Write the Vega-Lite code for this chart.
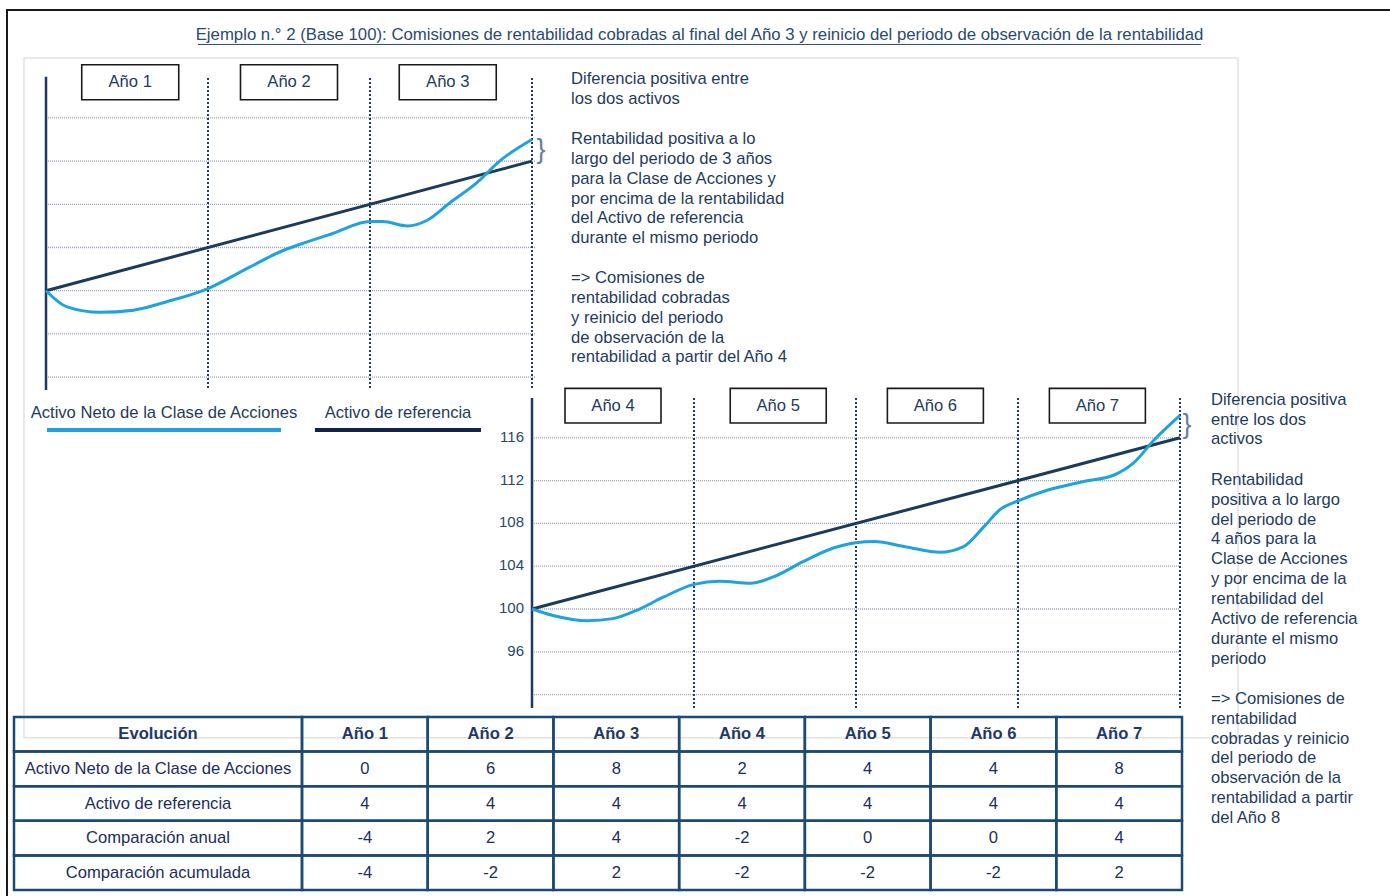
{
  "$schema": "https://vega.github.io/schema/vega-lite/v6.json",
  "width": 1390,
  "height": 896,
  "autosize": {"type": "none"},
  "padding": 0,
  "background": "white",
  "config": {
    "view": {"stroke": null},
    "axis": {"disable": true},
    "legend": {"disable": true},
    "font": "Liberation Sans"
  },
  "data": {"values": [{}]},
  "datasets": {
    "serie_sup": [
      {"serie": "Activo de referencia", "year": 0, "value": 100},
      {"serie": "Activo de referencia", "year": 3, "value": 112},
      {"serie": "Activo Neto de la Clase de Acciones", "year": 0, "value": 100},
      {"serie": "Activo Neto de la Clase de Acciones", "year": 0.13, "value": 98.5},
      {"serie": "Activo Neto de la Clase de Acciones", "year": 0.33, "value": 98.0},
      {"serie": "Activo Neto de la Clase de Acciones", "year": 0.54, "value": 98.2},
      {"serie": "Activo Neto de la Clase de Acciones", "year": 0.75, "value": 99.0},
      {"serie": "Activo Neto de la Clase de Acciones", "year": 1.0, "value": 100.2},
      {"serie": "Activo Neto de la Clase de Acciones", "year": 1.26, "value": 102.2},
      {"serie": "Activo Neto de la Clase de Acciones", "year": 1.46, "value": 103.7},
      {"serie": "Activo Neto de la Clase de Acciones", "year": 1.57, "value": 104.3},
      {"serie": "Activo Neto de la Clase de Acciones", "year": 1.77, "value": 105.3},
      {"serie": "Activo Neto de la Clase de Acciones", "year": 2.0, "value": 106.4},
      {"serie": "Activo Neto de la Clase de Acciones", "year": 2.08, "value": 106.4},
      {"serie": "Activo Neto de la Clase de Acciones", "year": 2.23, "value": 106.0},
      {"serie": "Activo Neto de la Clase de Acciones", "year": 2.35, "value": 106.5},
      {"serie": "Activo Neto de la Clase de Acciones", "year": 2.49, "value": 108.1},
      {"serie": "Activo Neto de la Clase de Acciones", "year": 2.66, "value": 110.0},
      {"serie": "Activo Neto de la Clase de Acciones", "year": 2.8, "value": 112.0},
      {"serie": "Activo Neto de la Clase de Acciones", "year": 3.0, "value": 114.0}
    ],
    "serie_inf": [
      {"serie": "Activo de referencia", "year": 3, "value": 100},
      {"serie": "Activo de referencia", "year": 7, "value": 116},
      {"serie": "Activo Neto de la Clase de Acciones", "year": 3.0, "value": 100},
      {"serie": "Activo Neto de la Clase de Acciones", "year": 3.13, "value": 99.4},
      {"serie": "Activo Neto de la Clase de Acciones", "year": 3.34, "value": 98.9},
      {"serie": "Activo Neto de la Clase de Acciones", "year": 3.5, "value": 99.1},
      {"serie": "Activo Neto de la Clase de Acciones", "year": 3.65, "value": 99.9},
      {"serie": "Activo Neto de la Clase de Acciones", "year": 3.81, "value": 101.1},
      {"serie": "Activo Neto de la Clase de Acciones", "year": 4.0, "value": 102.3},
      {"serie": "Activo Neto de la Clase de Acciones", "year": 4.16, "value": 102.6},
      {"serie": "Activo Neto de la Clase de Acciones", "year": 4.35, "value": 102.4},
      {"serie": "Activo Neto de la Clase de Acciones", "year": 4.49, "value": 103.0},
      {"serie": "Activo Neto de la Clase de Acciones", "year": 4.67, "value": 104.4},
      {"serie": "Activo Neto de la Clase de Acciones", "year": 4.86, "value": 105.7},
      {"serie": "Activo Neto de la Clase de Acciones", "year": 5.0, "value": 106.2},
      {"serie": "Activo Neto de la Clase de Acciones", "year": 5.11, "value": 106.3},
      {"serie": "Activo Neto de la Clase de Acciones", "year": 5.31, "value": 105.8},
      {"serie": "Activo Neto de la Clase de Acciones", "year": 5.52, "value": 105.3},
      {"serie": "Activo Neto de la Clase de Acciones", "year": 5.66, "value": 105.8},
      {"serie": "Activo Neto de la Clase de Acciones", "year": 5.79, "value": 107.7},
      {"serie": "Activo Neto de la Clase de Acciones", "year": 5.89, "value": 109.3},
      {"serie": "Activo Neto de la Clase de Acciones", "year": 6.0, "value": 110.1},
      {"serie": "Activo Neto de la Clase de Acciones", "year": 6.18, "value": 111.1},
      {"serie": "Activo Neto de la Clase de Acciones", "year": 6.4, "value": 111.9},
      {"serie": "Activo Neto de la Clase de Acciones", "year": 6.59, "value": 112.5},
      {"serie": "Activo Neto de la Clase de Acciones", "year": 6.71, "value": 113.6},
      {"serie": "Activo Neto de la Clase de Acciones", "year": 6.84, "value": 115.8},
      {"serie": "Activo Neto de la Clase de Acciones", "year": 7.0, "value": 118.1}
    ],
    "tabla": [
      {"fila": "Evolución", "col": "Evolución", "texto": "Evolución"},
      {"fila": "Evolución", "col": "Año 1", "texto": "Año 1"},
      {"fila": "Evolución", "col": "Año 2", "texto": "Año 2"},
      {"fila": "Evolución", "col": "Año 3", "texto": "Año 3"},
      {"fila": "Evolución", "col": "Año 4", "texto": "Año 4"},
      {"fila": "Evolución", "col": "Año 5", "texto": "Año 5"},
      {"fila": "Evolución", "col": "Año 6", "texto": "Año 6"},
      {"fila": "Evolución", "col": "Año 7", "texto": "Año 7"},
      {"fila": "Activo Neto de la Clase de Acciones", "col": "Evolución", "texto": "Activo Neto de la Clase de Acciones"},
      {"fila": "Activo Neto de la Clase de Acciones", "col": "Año 1", "texto": "0"},
      {"fila": "Activo Neto de la Clase de Acciones", "col": "Año 2", "texto": "6"},
      {"fila": "Activo Neto de la Clase de Acciones", "col": "Año 3", "texto": "8"},
      {"fila": "Activo Neto de la Clase de Acciones", "col": "Año 4", "texto": "2"},
      {"fila": "Activo Neto de la Clase de Acciones", "col": "Año 5", "texto": "4"},
      {"fila": "Activo Neto de la Clase de Acciones", "col": "Año 6", "texto": "4"},
      {"fila": "Activo Neto de la Clase de Acciones", "col": "Año 7", "texto": "8"},
      {"fila": "Activo de referencia", "col": "Evolución", "texto": "Activo de referencia"},
      {"fila": "Activo de referencia", "col": "Año 1", "texto": "4"},
      {"fila": "Activo de referencia", "col": "Año 2", "texto": "4"},
      {"fila": "Activo de referencia", "col": "Año 3", "texto": "4"},
      {"fila": "Activo de referencia", "col": "Año 4", "texto": "4"},
      {"fila": "Activo de referencia", "col": "Año 5", "texto": "4"},
      {"fila": "Activo de referencia", "col": "Año 6", "texto": "4"},
      {"fila": "Activo de referencia", "col": "Año 7", "texto": "4"},
      {"fila": "Comparación anual", "col": "Evolución", "texto": "Comparación anual"},
      {"fila": "Comparación anual", "col": "Año 1", "texto": "-4"},
      {"fila": "Comparación anual", "col": "Año 2", "texto": "2"},
      {"fila": "Comparación anual", "col": "Año 3", "texto": "4"},
      {"fila": "Comparación anual", "col": "Año 4", "texto": "-2"},
      {"fila": "Comparación anual", "col": "Año 5", "texto": "0"},
      {"fila": "Comparación anual", "col": "Año 6", "texto": "0"},
      {"fila": "Comparación anual", "col": "Año 7", "texto": "4"},
      {"fila": "Comparación acumulada", "col": "Evolución", "texto": "Comparación acumulada"},
      {"fila": "Comparación acumulada", "col": "Año 1", "texto": "-4"},
      {"fila": "Comparación acumulada", "col": "Año 2", "texto": "-2"},
      {"fila": "Comparación acumulada", "col": "Año 3", "texto": "2"},
      {"fila": "Comparación acumulada", "col": "Año 4", "texto": "-2"},
      {"fila": "Comparación acumulada", "col": "Año 5", "texto": "-2"},
      {"fila": "Comparación acumulada", "col": "Año 6", "texto": "-2"},
      {"fila": "Comparación acumulada", "col": "Año 7", "texto": "2"}
    ]
  },
  "layer": [
    {
      "layer": [
        {
          "mark": {"type": "rect", "fillOpacity": 0, "stroke": "#1a1a1a", "strokeWidth": 2},
          "encoding": {
            "x": {"datum": -0.2407, "type": "quantitative", "scale": {"domain": [0, 7], "range": [46, 1180], "nice": false, "zero": false}},
            "x2": {"datum": 8.6},
            "y": {"datum": 126, "type": "quantitative", "scale": {"domain": [90, 120], "range": [398.7, 74.7], "nice": false, "zero": false}},
            "y2": {"datum": 40}
          }
        },
        {
          "mark": {"type": "rect", "fillOpacity": 0, "stroke": "#e2e2e2", "strokeWidth": 1.5},
          "encoding": {
            "x": {"datum": -0.136, "type": "quantitative", "scale": {"domain": [0, 7], "range": [46, 1180], "nice": false, "zero": false}},
            "x2": {"datum": 7.358},
            "y": {"datum": 121.55, "type": "quantitative", "scale": {"domain": [90, 120], "range": [398.7, 74.7], "nice": false, "zero": false}},
            "y2": {"datum": 58.6}
          }
        },
        {
          "mark": {"type": "text", "fontSize": 16.75, "color": "#2b4a6e", "align": "center", "baseline": "middle"},
          "encoding": {
            "x": {"datum": 4.034, "type": "quantitative", "scale": {"domain": [0, 7], "range": [46, 1180], "nice": false, "zero": false}},
            "y": {"datum": 123.63, "type": "quantitative", "scale": {"domain": [90, 120], "range": [398.7, 74.7], "nice": false, "zero": false}},
            "text": {"value": "Ejemplo n.° 2 (Base 100): Comisiones de rentabilidad cobradas al final del Año 3 y reinicio del periodo de observación de la rentabilidad"}
          }
        },
        {
          "mark": {"type": "rule", "color": "#2b4a6e", "strokeWidth": 1},
          "encoding": {
            "x": {"datum": 0.938, "type": "quantitative", "scale": {"domain": [0, 7], "range": [46, 1180], "nice": false, "zero": false}},
            "x2": {"datum": 7.13},
            "y": {"datum": 122.8, "type": "quantitative", "scale": {"domain": [90, 120], "range": [398.7, 74.7], "nice": false, "zero": false}}
          }
        },
        {
          "data": {"values": [{"v": 92}, {"v": 96}, {"v": 100}, {"v": 104}, {"v": 108}, {"v": 112}, {"v": 116}]},
          "mark": {"type": "rule", "color": "#9aa7ba", "strokeWidth": 1.3, "strokeDash": [1, 1]},
          "encoding": {
            "x": {"datum": 0, "type": "quantitative", "scale": {"domain": [0, 7], "range": [46, 1180], "nice": false, "zero": false}},
            "x2": {"datum": 3.02},
            "y": {"field": "v", "type": "quantitative", "scale": {"domain": [90, 120], "range": [398.7, 74.7], "nice": false, "zero": false}}
          }
        },
        {
          "data": {"values": [{"year": 1}, {"year": 2}, {"year": 3}]},
          "mark": {"type": "rule", "color": "#1f3864", "strokeWidth": 2, "strokeDash": [2, 2]},
          "encoding": {
            "x": {"field": "year", "type": "quantitative", "scale": {"domain": [0, 7], "range": [46, 1180], "nice": false, "zero": false}},
            "y": {"datum": 119.7, "type": "quantitative", "scale": {"domain": [90, 120], "range": [398.7, 74.7], "nice": false, "zero": false}},
            "y2": {"datum": 90.8}
          }
        },
        {
          "mark": {"type": "rule", "color": "#1f3864", "strokeWidth": 2.5},
          "encoding": {
            "x": {"datum": 0, "type": "quantitative", "scale": {"domain": [0, 7], "range": [46, 1180], "nice": false, "zero": false}},
            "y": {"datum": 119.8, "type": "quantitative", "scale": {"domain": [90, 120], "range": [398.7, 74.7], "nice": false, "zero": false}},
            "y2": {"datum": 90.8}
          }
        },
        {
          "data": {"name": "serie_sup"},
          "mark": {"type": "line", "strokeWidth": 3, "interpolate": "monotone"},
          "encoding": {
            "x": {"field": "year", "type": "quantitative", "scale": {"domain": [0, 7], "range": [46, 1180], "nice": false, "zero": false}},
            "y": {"field": "value", "type": "quantitative", "scale": {"domain": [90, 120], "range": [398.7, 74.7], "nice": false, "zero": false}},
            "color": {"field": "serie", "type": "nominal", "legend": null, "scale": {"domain": ["Activo Neto de la Clase de Acciones", "Activo de referencia"], "range": ["#1fa2df", "#1b3a5c"]}}
          }
        },
        {
          "data": {"values": [{"año": "Año 1", "centro": 0.52}, {"año": "Año 2", "centro": 1.5}, {"año": "Año 3", "centro": 2.48}]},
          "mark": {"type": "point", "shape": "M-1,-0.36L1,-0.36L1,0.36L-1,0.36Z", "size": 9409, "filled": true, "fill": "white", "stroke": "#1a1a1a", "strokeWidth": 1.6, "opacity": 1},
          "encoding": {
            "x": {"field": "centro", "type": "quantitative", "scale": {"domain": [0, 7], "range": [46, 1180], "nice": false, "zero": false}},
            "y": {"datum": 119.3, "type": "quantitative", "scale": {"domain": [90, 120], "range": [398.7, 74.7], "nice": false, "zero": false}}
          }
        },
        {
          "data": {"values": [{"año": "Año 1", "centro": 0.52}, {"año": "Año 2", "centro": 1.5}, {"año": "Año 3", "centro": 2.48}]},
          "mark": {"type": "text", "fontSize": 16.6, "color": "#1f3b5c", "align": "center", "baseline": "middle"},
          "encoding": {
            "x": {"field": "centro", "type": "quantitative", "scale": {"domain": [0, 7], "range": [46, 1180], "nice": false, "zero": false}},
            "y": {"datum": 119.3, "type": "quantitative", "scale": {"domain": [90, 120], "range": [398.7, 74.7], "nice": false, "zero": false}},
            "text": {"field": "año"}
          }
        },
        {
          "mark": {"type": "text", "fontSize": 16.6, "color": "#1f3b5c", "align": "left", "baseline": "top", "lineBreak": "\n", "lineHeight": 19.93},
          "encoding": {
            "x": {"datum": 3.241, "type": "quantitative", "scale": {"domain": [0, 7], "range": [46, 1180], "nice": false, "zero": false}},
            "y": {"datum": 120.37, "type": "quantitative", "scale": {"domain": [90, 120], "range": [398.7, 74.7], "nice": false, "zero": false}},
            "text": {"value": "Diferencia positiva entre\nlos dos activos"}
          }
        },
        {
          "mark": {"type": "text", "fontSize": 16.6, "color": "#1f3b5c", "align": "left", "baseline": "top", "lineBreak": "\n", "lineHeight": 19.93},
          "encoding": {
            "x": {"datum": 3.241, "type": "quantitative", "scale": {"domain": [0, 7], "range": [46, 1180], "nice": false, "zero": false}},
            "y": {"datum": 114.81, "type": "quantitative", "scale": {"domain": [90, 120], "range": [398.7, 74.7], "nice": false, "zero": false}},
            "text": {"value": "Rentabilidad positiva a lo\nlargo del periodo de 3 años\npara la Clase de Acciones y\npor encima de la rentabilidad\ndel Activo de referencia\ndurante el mismo periodo"}
          }
        },
        {
          "mark": {"type": "text", "fontSize": 16.6, "color": "#1f3b5c", "align": "left", "baseline": "top", "lineBreak": "\n", "lineHeight": 19.93},
          "encoding": {
            "x": {"datum": 3.241, "type": "quantitative", "scale": {"domain": [0, 7], "range": [46, 1180], "nice": false, "zero": false}},
            "y": {"datum": 101.94, "type": "quantitative", "scale": {"domain": [90, 120], "range": [398.7, 74.7], "nice": false, "zero": false}},
            "text": {"value": "=> Comisiones de\nrentabilidad cobradas\ny reinicio del periodo\nde observación de la\nrentabilidad a partir del Año 4"}
          }
        },
        {
          "mark": {"type": "text", "fontSize": 27, "color": "#6a7f9a", "align": "left", "baseline": "middle"},
          "encoding": {
            "x": {"datum": 3.028, "type": "quantitative", "scale": {"domain": [0, 7], "range": [46, 1180], "nice": false, "zero": false}},
            "y": {"datum": 113.0, "type": "quantitative", "scale": {"domain": [90, 120], "range": [398.7, 74.7], "nice": false, "zero": false}},
            "text": {"value": "}"}
          }
        },
        {
          "mark": {"type": "text", "fontSize": 16.6, "color": "#1f3b5c", "align": "center", "baseline": "middle"},
          "encoding": {
            "x": {"datum": 0.728, "type": "quantitative", "scale": {"domain": [0, 7], "range": [46, 1180], "nice": false, "zero": false}},
            "y": {"datum": 88.68, "type": "quantitative", "scale": {"domain": [90, 120], "range": [398.7, 74.7], "nice": false, "zero": false}},
            "text": {"value": "Activo Neto de la Clase de Acciones"}
          }
        },
        {
          "mark": {"type": "text", "fontSize": 16.6, "color": "#1f3b5c", "align": "center", "baseline": "middle"},
          "encoding": {
            "x": {"datum": 2.173, "type": "quantitative", "scale": {"domain": [0, 7], "range": [46, 1180], "nice": false, "zero": false}},
            "y": {"datum": 88.68, "type": "quantitative", "scale": {"domain": [90, 120], "range": [398.7, 74.7], "nice": false, "zero": false}},
            "text": {"value": "Activo de referencia"}
          }
        },
        {
          "mark": {"type": "rule", "color": "#1fa2df", "strokeWidth": 4},
          "encoding": {
            "x": {"datum": 0.006, "type": "quantitative", "scale": {"domain": [0, 7], "range": [46, 1180], "nice": false, "zero": false}},
            "x2": {"datum": 1.451},
            "y": {"datum": 87.1, "type": "quantitative", "scale": {"domain": [90, 120], "range": [398.7, 74.7], "nice": false, "zero": false}}
          }
        },
        {
          "mark": {"type": "rule", "color": "#12224f", "strokeWidth": 4},
          "encoding": {
            "x": {"datum": 1.66, "type": "quantitative", "scale": {"domain": [0, 7], "range": [46, 1180], "nice": false, "zero": false}},
            "x2": {"datum": 2.685},
            "y": {"datum": 87.1, "type": "quantitative", "scale": {"domain": [90, 120], "range": [398.7, 74.7], "nice": false, "zero": false}}
          }
        }
      ]
    },
    {
      "layer": [
        {
          "data": {"values": [{"v": 92}, {"v": 96}, {"v": 100}, {"v": 104}, {"v": 108}, {"v": 112}, {"v": 116}]},
          "mark": {"type": "rule", "color": "#9aa7ba", "strokeWidth": 1.3, "strokeDash": [1, 1]},
          "encoding": {
            "x": {"datum": 3, "type": "quantitative", "scale": {"domain": [0, 7], "range": [46, 1180], "nice": false, "zero": false}},
            "x2": {"datum": 7},
            "y": {"field": "v", "type": "quantitative", "scale": {"domain": [90, 120], "range": [716, 395], "nice": false, "zero": false}}
          }
        },
        {
          "data": {"values": [{"year": 4}, {"year": 5}, {"year": 6}, {"year": 7}]},
          "mark": {"type": "rule", "color": "#1f3864", "strokeWidth": 2, "strokeDash": [2, 2]},
          "encoding": {
            "x": {"field": "year", "type": "quantitative", "scale": {"domain": [0, 7], "range": [46, 1180], "nice": false, "zero": false}},
            "y": {"datum": 119.72, "type": "quantitative", "scale": {"domain": [90, 120], "range": [716, 395], "nice": false, "zero": false}},
            "y2": {"datum": 90.75}
          }
        },
        {
          "mark": {"type": "rule", "color": "#1f3864", "strokeWidth": 2.5},
          "encoding": {
            "x": {"datum": 3, "type": "quantitative", "scale": {"domain": [0, 7], "range": [46, 1180], "nice": false, "zero": false}},
            "y": {"datum": 119.72, "type": "quantitative", "scale": {"domain": [90, 120], "range": [716, 395], "nice": false, "zero": false}},
            "y2": {"datum": 90.75}
          }
        },
        {
          "data": {"values": [{"v": 96}, {"v": 100}, {"v": 104}, {"v": 108}, {"v": 112}, {"v": 116}]},
          "mark": {"type": "text", "fontSize": 15, "color": "#2a4766", "align": "right", "baseline": "middle", "dx": -8, "dy": -1},
          "encoding": {
            "x": {"datum": 3, "type": "quantitative", "scale": {"domain": [0, 7], "range": [46, 1180], "nice": false, "zero": false}},
            "y": {"field": "v", "type": "quantitative", "scale": {"domain": [90, 120], "range": [716, 395], "nice": false, "zero": false}},
            "text": {"field": "v", "type": "quantitative"}
          }
        },
        {
          "data": {"name": "serie_inf"},
          "mark": {"type": "line", "strokeWidth": 3, "interpolate": "monotone"},
          "encoding": {
            "x": {"field": "year", "type": "quantitative", "scale": {"domain": [0, 7], "range": [46, 1180], "nice": false, "zero": false}},
            "y": {"field": "value", "type": "quantitative", "scale": {"domain": [90, 120], "range": [716, 395], "nice": false, "zero": false}},
            "color": {"field": "serie", "type": "nominal", "legend": null, "scale": {"domain": ["Activo Neto de la Clase de Acciones", "Activo de referencia"], "range": ["#1fa2df", "#1b3a5c"]}}
          }
        },
        {
          "data": {"values": [{"año": "Año 4", "centro": 3.5}, {"año": "Año 5", "centro": 4.52}, {"año": "Año 6", "centro": 5.49}, {"año": "Año 7", "centro": 6.49}]},
          "mark": {"type": "point", "shape": "M-1,-0.36L1,-0.36L1,0.36L-1,0.36Z", "size": 9216, "filled": true, "fill": "white", "stroke": "#1a1a1a", "strokeWidth": 1.6, "opacity": 1},
          "encoding": {
            "x": {"field": "centro", "type": "quantitative", "scale": {"domain": [0, 7], "range": [46, 1180], "nice": false, "zero": false}},
            "y": {"datum": 119.0, "type": "quantitative", "scale": {"domain": [90, 120], "range": [716, 395], "nice": false, "zero": false}}
          }
        },
        {
          "data": {"values": [{"año": "Año 4", "centro": 3.5}, {"año": "Año 5", "centro": 4.52}, {"año": "Año 6", "centro": 5.49}, {"año": "Año 7", "centro": 6.49}]},
          "mark": {"type": "text", "fontSize": 16.6, "color": "#1f3b5c", "align": "center", "baseline": "middle"},
          "encoding": {
            "x": {"field": "centro", "type": "quantitative", "scale": {"domain": [0, 7], "range": [46, 1180], "nice": false, "zero": false}},
            "y": {"datum": 119.0, "type": "quantitative", "scale": {"domain": [90, 120], "range": [716, 395], "nice": false, "zero": false}},
            "text": {"field": "año"}
          }
        },
        {
          "mark": {"type": "text", "fontSize": 16.6, "color": "#1f3b5c", "align": "left", "baseline": "top", "lineBreak": "\n", "lineHeight": 19.9},
          "encoding": {
            "x": {"datum": 7.191, "type": "quantitative", "scale": {"domain": [0, 7], "range": [46, 1180], "nice": false, "zero": false}},
            "y": {"datum": 120.31, "type": "quantitative", "scale": {"domain": [90, 120], "range": [716, 395], "nice": false, "zero": false}},
            "text": {"value": "Diferencia positiva\nentre los dos\nactivos"}
          }
        },
        {
          "mark": {"type": "text", "fontSize": 16.6, "color": "#1f3b5c", "align": "left", "baseline": "top", "lineBreak": "\n", "lineHeight": 19.9},
          "encoding": {
            "x": {"datum": 7.191, "type": "quantitative", "scale": {"domain": [0, 7], "range": [46, 1180], "nice": false, "zero": false}},
            "y": {"datum": 112.83, "type": "quantitative", "scale": {"domain": [90, 120], "range": [716, 395], "nice": false, "zero": false}},
            "text": {"value": "Rentabilidad\npositiva a lo largo\ndel periodo de\n4 años para la\nClase de Acciones\ny por encima de la\nrentabilidad del\nActivo de referencia\ndurante el mismo\nperiodo"}
          }
        },
        {
          "mark": {"type": "text", "fontSize": 16.6, "color": "#1f3b5c", "align": "left", "baseline": "top", "lineBreak": "\n", "lineHeight": 19.9},
          "encoding": {
            "x": {"datum": 7.191, "type": "quantitative", "scale": {"domain": [0, 7], "range": [46, 1180], "nice": false, "zero": false}},
            "y": {"datum": 92.36, "type": "quantitative", "scale": {"domain": [90, 120], "range": [716, 395], "nice": false, "zero": false}},
            "text": {"value": "=> Comisiones de\nrentabilidad\ncobradas y reinicio\ndel periodo de\nobservación de la\nrentabilidad a partir\ndel Año 8"}
          }
        },
        {
          "mark": {"type": "text", "fontSize": 27, "color": "#6a7f9a", "align": "left", "baseline": "middle"},
          "encoding": {
            "x": {"datum": 7.016, "type": "quantitative", "scale": {"domain": [0, 7], "range": [46, 1180], "nice": false, "zero": false}},
            "y": {"datum": 117.2, "type": "quantitative", "scale": {"domain": [90, 120], "range": [716, 395], "nice": false, "zero": false}},
            "text": {"value": "}"}
          }
        }
      ]
    },
    {
      "data": {"name": "tabla"},
      "layer": [
        {
          "transform": [{"filter": "datum.col === 'Evolución'"}],
          "encoding": {
            "x": {"field": "col", "type": "nominal", "axis": null, "scale": {"domain": ["Evolución"], "range": [14, 302], "paddingInner": 0, "paddingOuter": 0}},
            "y": {"field": "fila", "type": "nominal", "axis": null, "scale": {"domain": ["Evolución", "Activo Neto de la Clase de Acciones", "Activo de referencia", "Comparación anual", "Comparación acumulada"], "range": [717, 890], "paddingInner": 0, "paddingOuter": 0}}
          },
          "layer": [
            {"mark": {"type": "rect", "fillOpacity": 0, "stroke": "#1d4a72", "strokeWidth": 2.5}},
            {
              "transform": [{"filter": "datum.fila === 'Evolución'"}],
              "mark": {"type": "text", "fontSize": 16.6, "fontWeight": "bold", "color": "#1f3864", "baseline": "middle"},
              "encoding": {"text": {"field": "texto"}}
            },
            {
              "transform": [{"filter": "datum.fila !== 'Evolución'"}],
              "mark": {"type": "text", "fontSize": 16.6, "color": "#1c2e5c", "baseline": "middle"},
              "encoding": {"text": {"field": "texto"}}
            }
          ]
        },
        {
          "transform": [{"filter": "datum.col !== 'Evolución'"}],
          "encoding": {
            "x": {"field": "col", "type": "nominal", "axis": null, "scale": {"domain": ["Año 1", "Año 2", "Año 3", "Año 4", "Año 5", "Año 6", "Año 7"], "range": [302, 1182], "paddingInner": 0, "paddingOuter": 0}},
            "y": {"field": "fila", "type": "nominal", "axis": null, "scale": {"domain": ["Evolución", "Activo Neto de la Clase de Acciones", "Activo de referencia", "Comparación anual", "Comparación acumulada"], "range": [717, 890], "paddingInner": 0, "paddingOuter": 0}}
          },
          "layer": [
            {"mark": {"type": "rect", "fillOpacity": 0, "stroke": "#1d4a72", "strokeWidth": 2.5}},
            {
              "transform": [{"filter": "datum.fila === 'Evolución'"}],
              "mark": {"type": "text", "fontSize": 16.6, "fontWeight": "bold", "color": "#1f3864", "baseline": "middle"},
              "encoding": {"text": {"field": "texto"}}
            },
            {
              "transform": [{"filter": "datum.fila !== 'Evolución'"}],
              "mark": {"type": "text", "fontSize": 16.6, "color": "#1c2e5c", "baseline": "middle"},
              "encoding": {"text": {"field": "texto"}}
            }
          ]
        }
      ],
      "resolve": {"scale": {"x": "independent"}}
    }
  ],
  "resolve": {"scale": {"x": "independent", "y": "independent"}}
}
